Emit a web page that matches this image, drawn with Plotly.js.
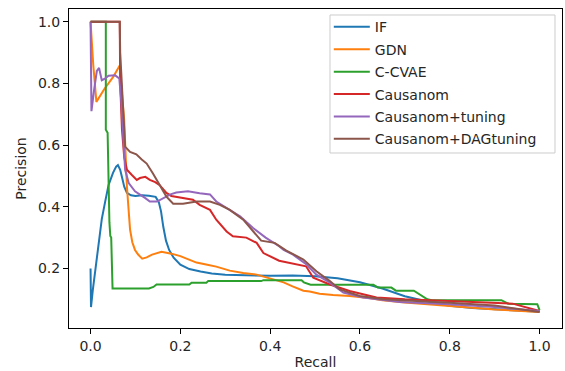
<!DOCTYPE html>
<html>
<head>
<meta charset="utf-8">
<script src="https://cdn.plot.ly/plotly-3.0.1.min.js"></script>
<style>html,body{margin:0;padding:0;background:#fff;}#chart{width:565px;height:371px;}</style>
</head>
<body>
<div id="chart"></div>
<script>
// ---- Data (recall, precision) ----
const seriesNames = ["IF", "GDN", "C-CVAE", "Causanom", "Causanom+tuning", "Causanom+DAGtuning"];
const seriesColors = ["#1f77b4", "#ff7f0e", "#2ca02c", "#d62728", "#9467bd", "#8c564b"];

const ifRecall = [0, 0.001, 0.005, 0.01, 0.018, 0.025, 0.033, 0.04, 0.05, 0.057, 0.061, 0.066, 0.071, 0.075, 0.081, 0.09, 0.1, 0.115, 0.13, 0.145, 0.152, 0.157, 0.162, 0.168, 0.175, 0.185, 0.2, 0.22, 0.245, 0.27, 0.3, 0.35, 0.4, 0.45, 0.5, 0.55, 0.6, 0.65, 0.7, 0.75, 0.8, 0.85, 0.9, 0.95, 1.0];
const ifPrecision = [0.2, 0.075, 0.13, 0.19, 0.28, 0.36, 0.42, 0.47, 0.51, 0.53, 0.535, 0.52, 0.49, 0.465, 0.445, 0.437, 0.435, 0.437, 0.436, 0.432, 0.415, 0.385, 0.335, 0.29, 0.26, 0.235, 0.212, 0.198, 0.19, 0.184, 0.18, 0.177, 0.176, 0.177, 0.175, 0.168, 0.155, 0.135, 0.11, 0.093, 0.079, 0.072, 0.068, 0.065, 0.06];

const gdnRecall = [0, 0.003, 0.006, 0.013, 0.03, 0.05, 0.065, 0.068, 0.075, 0.081, 0.088, 0.093, 0.099, 0.106, 0.115, 0.125, 0.137, 0.158, 0.18, 0.2, 0.236, 0.26, 0.28, 0.31, 0.34, 0.37, 0.4, 0.42, 0.43, 0.45, 0.474, 0.488, 0.51, 0.54, 0.577, 0.62, 0.65, 0.7, 0.75, 0.8, 0.85, 0.9, 0.95, 1.0];
const gdnPrecision = [1.0, 0.91, 0.86, 0.74, 0.78, 0.82, 0.858, 0.8, 0.68, 0.465, 0.326, 0.285, 0.26, 0.245, 0.232, 0.236, 0.245, 0.254, 0.248, 0.24, 0.219, 0.212, 0.206, 0.193, 0.185, 0.18, 0.168, 0.16, 0.155, 0.142, 0.128, 0.125, 0.118, 0.114, 0.111, 0.104, 0.097, 0.09, 0.084, 0.078, 0.072, 0.067, 0.063, 0.059];

const ccvaeRecall = [0, 0.034, 0.034, 0.038, 0.042, 0.044, 0.046, 0.048, 0.049, 0.13, 0.14, 0.147, 0.22, 0.225, 0.258, 0.262, 0.38, 0.385, 0.47, 0.475, 0.49, 0.63, 0.64, 0.67, 0.68, 0.72, 0.735, 0.75, 0.76, 0.915, 0.93, 0.995, 1.0];
const ccvaePrecision = [1.0, 1.0, 0.65, 0.64, 0.35, 0.305, 0.3, 0.2, 0.135, 0.135, 0.14, 0.148, 0.148, 0.154, 0.154, 0.159, 0.159, 0.162, 0.162, 0.155, 0.147, 0.147, 0.138, 0.138, 0.128, 0.128, 0.115, 0.1, 0.097, 0.097, 0.086, 0.084, 0.065];

const causRecall = [0, 0.065, 0.066, 0.07, 0.075, 0.081, 0.092, 0.103, 0.11, 0.122, 0.132, 0.144, 0.154, 0.16, 0.169, 0.18, 0.199, 0.228, 0.243, 0.266, 0.28, 0.303, 0.317, 0.347, 0.37, 0.385, 0.42, 0.459, 0.48, 0.496, 0.533, 0.577, 0.637, 0.7, 0.8, 0.87, 0.94, 1.0];
const causPrecision = [1.0, 1.0, 0.8, 0.65, 0.56, 0.52, 0.503, 0.487, 0.493, 0.497, 0.487, 0.48, 0.47, 0.46, 0.445, 0.435, 0.43, 0.423, 0.406, 0.39, 0.358, 0.32, 0.304, 0.3, 0.283, 0.25, 0.225, 0.213, 0.207, 0.17, 0.148, 0.127, 0.106, 0.1, 0.095, 0.09, 0.086, 0.062];

const tunRecall = [0, 0.002, 0.008, 0.014, 0.019, 0.025, 0.032, 0.04, 0.055, 0.064, 0.068, 0.072, 0.075, 0.077, 0.085, 0.099, 0.122, 0.132, 0.148, 0.162, 0.178, 0.191, 0.217, 0.243, 0.266, 0.28, 0.303, 0.333, 0.362, 0.39, 0.42, 0.43, 0.451, 0.466, 0.481, 0.503, 0.533, 0.563, 0.607, 0.689, 0.8, 0.9, 1.0];
const tunPrecision = [1.0, 0.71, 0.78, 0.84, 0.85, 0.81, 0.815, 0.825, 0.826, 0.816, 0.75, 0.65, 0.574, 0.52, 0.477, 0.45, 0.428, 0.417, 0.417, 0.428, 0.44, 0.446, 0.45, 0.444, 0.44, 0.417, 0.396, 0.369, 0.331, 0.3, 0.272, 0.26, 0.245, 0.229, 0.213, 0.18, 0.154, 0.122, 0.106, 0.091, 0.084, 0.075, 0.062];

const dagRecall = [0, 0.065, 0.066, 0.071, 0.077, 0.088, 0.102, 0.114, 0.125, 0.139, 0.154, 0.169, 0.184, 0.206, 0.236, 0.266, 0.288, 0.31, 0.34, 0.362, 0.38, 0.41, 0.436, 0.474, 0.503, 0.533, 0.555, 0.6, 0.652, 0.8, 0.9, 1.0];
const dagPrecision = [1.0, 1.0, 0.9, 0.75, 0.595, 0.578, 0.57, 0.553, 0.54, 0.508, 0.47, 0.433, 0.41, 0.41, 0.417, 0.417, 0.406, 0.39, 0.358, 0.32, 0.29, 0.283, 0.258, 0.229, 0.191, 0.159, 0.132, 0.111, 0.1, 0.089, 0.08, 0.059];

const xTicks = [0, 0.2, 0.4, 0.6, 0.8, 1.0];
const yTicks = [0.2, 0.4, 0.6, 0.8, 1.0];

const recalls = [ifRecall, gdnRecall, ccvaeRecall, causRecall, tunRecall, dagRecall];
const precisions = [ifPrecision, gdnPrecision, ccvaePrecision, causPrecision, tunPrecision, dagPrecision];

const FONT = "DejaVu Sans, sans-serif";
const traces = seriesNames.map((name, i) => ({
  type: "scatter",
  mode: "lines",
  name: name,
  x: recalls[i],
  y: precisions[i],
  line: {color: seriesColors[i], width: 2},
  legendgroup: "g" + i
}));

const axisCommon = {
  showline: true, mirror: true, linecolor: "#000", linewidth: 1,
  ticks: "outside", ticklen: 5, tickwidth: 1, tickcolor: "#000",
  showgrid: false, zeroline: false,
  tickfont: {family: FONT, size: 14, color: "#262626"}
};

const layout = {
  width: 565, height: 371,
  margin: {l: 69, r: 3, t: 9, b: 43},
  paper_bgcolor: "#fff", plot_bgcolor: "#fff",
  showlegend: true,
  xaxis: Object.assign({}, axisCommon, {
    range: [-0.048, 1.05], tickvals: xTicks, tickformat: ".1f",
    title: {text: "Recall", font: {family: FONT, size: 14, color: "#262626"}, standoff: 4}
  }),
  yaxis: Object.assign({}, axisCommon, {
    range: [0.007, 1.041], tickvals: yTicks, tickformat: ".1f",
    title: {text: "Precision", font: {family: FONT, size: 14, color: "#262626"}, standoff: 8}
  }),
  // legend frame (matplotlib-style light grey box)
  shapes: [{
    type: "rect", xref: "paper", yref: "paper", layer: "above",
    x0: 0.5294, x1: 0.9858, y0: 0.5486, y1: 0.9812,
    line: {color: "#cccccc", width: 1}, fillcolor: "rgba(255,255,255,0)"
  }],
  legend: {
    x: 0.527, xanchor: "left", y: 0.993, yanchor: "top",
    bgcolor: "rgba(255,255,255,0)", borderwidth: 0,
    font: {family: FONT, size: 14, color: "#262626"},
    tracegroupgap: 1.2, traceorder: "grouped", itemwidth: 36
  }
};

Plotly.newPlot("chart", traces, layout, {displayModeBar: false, staticPlot: true});
</script>
</body>
</html>
